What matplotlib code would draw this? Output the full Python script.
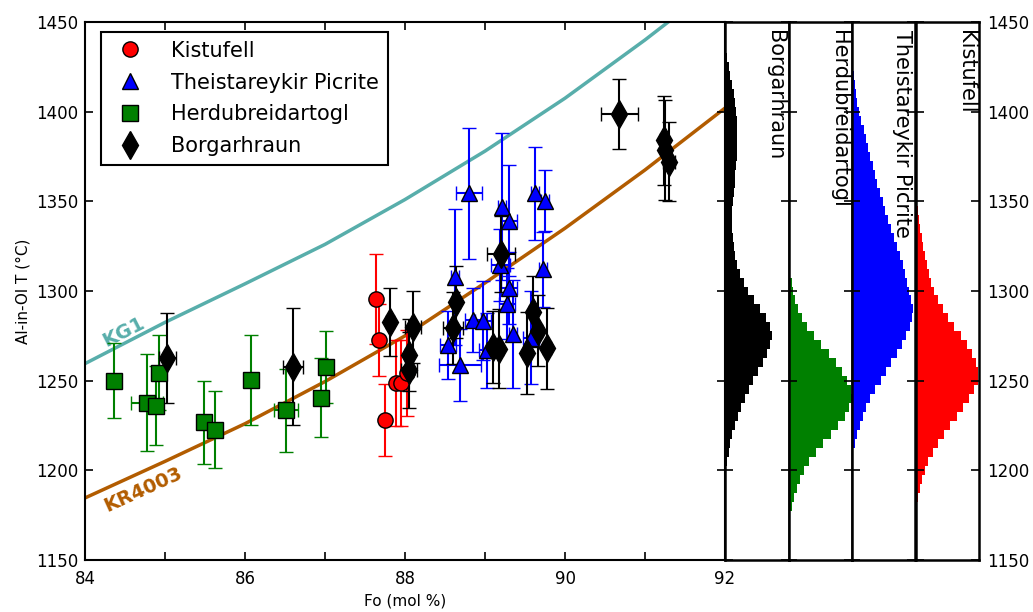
import numpy as np
import matplotlib
matplotlib.use('Agg')
import matplotlib.pyplot as plt

# --- point data: Fo (mol %), T (C), errors ---
kist_fo = [87.64, 87.67, 87.75, 87.89, 87.95, 88.02]
kist_t = [1295.5, 1272.8, 1227.9, 1248.5, 1248.9, 1254.1]
kist_fo_err = [0.0, 0.0, 0.0, 0.0, 0.0, 0.0]
kist_t_err = [25, 20, 20, 24, 24, 24]

theis_fo = [88.80, 89.21, 89.30, 89.63, 89.75, 89.19, 89.73, 88.63, 89.30,
            89.28, 88.85, 88.97, 88.54, 88.69, 89.02, 89.35, 89.57]
theis_t = [1354.5, 1347.0, 1339.2, 1354.5, 1350.4, 1314.3, 1312.1, 1308.0, 1301.5,
           1293.0, 1283.8, 1283.4, 1269.9, 1258.7, 1267.0, 1276.0, 1274.0]
theis_fo_err = [0.16, 0.05, 0.10, 0.05, 0.05, 0.12, 0.05, 0.05, 0.10,
                0.10, 0.10, 0.10, 0.10, 0.26, 0.10, 0.05, 0.10]
theis_t_err = [36.5, 41, 31, 26, 17, 20, 21, 38, 20,
               20, 18, 22, 19, 20, 21, 30, 26]

herd_fo = [84.36, 84.77, 84.89, 84.93, 85.49, 85.62, 86.08, 86.51, 87.01, 86.95]
herd_t = [1250.0, 1237.7, 1235.9, 1254.4, 1226.8, 1222.7, 1250.5, 1233.5, 1257.6, 1240.5]
herd_fo_err = [0.05, 0.2, 0.05, 0.05, 0.05, 0.05, 0.05, 0.15, 0.05, 0.05]
herd_t_err = [21, 27, 22, 21, 23, 21.5, 25, 23, 20, 22]

borg_fo = [85.03, 86.60, 87.81, 88.10, 88.05, 88.05, 88.64, 88.60, 89.10, 89.17,
           89.20, 89.60, 89.66, 89.52, 89.77, 90.68, 91.25, 91.30, 91.24]
borg_t = [1262.5, 1257.8, 1282.9, 1280.1, 1264.3, 1255.9, 1294.0, 1279.2, 1268.6, 1267.7,
          1320.6, 1288.5, 1277.9, 1265.3, 1268.0, 1398.7, 1378.6, 1372.0, 1384.0]
borg_fo_err = [0.11, 0.125, 0.05, 0.10, 0.05, 0.10, 0.05, 0.12, 0.05, 0.05,
               0.18, 0.05, 0.05, 0.05, 0.05, 0.23, 0.05, 0.08, 0.05]
borg_t_err = [25, 32.5, 19, 20, 20, 21, 20, 20, 20, 22,
              21, 20, 20, 23, 22.5, 19.5, 28, 22, 25]

# --- model curves ---
kg1_fo = [84.0, 85.0, 86.0, 87.0, 88.0, 89.0, 90.0, 91.0, 91.29]
kg1_t = [1259.5, 1282.5, 1304.0, 1326.0, 1351.0, 1378.0, 1407.5, 1440.0, 1450.0]
kr_fo = [84.0, 85.0, 86.0, 87.0, 88.0, 89.0, 90.0, 91.0, 92.0]
kr_t = [1184.6, 1205.0, 1226.0, 1249.5, 1275.0, 1304.5, 1335.0, 1367.5, 1402.0]

# --- histograms (bin centres, 5 C bins, relative frequency) ---
borg_bins = list(range(1200, 1445, 5))
borg_freq = [1, 2, 3.5, 5, 7, 10, 13, 16, 20, 24, 28, 33, 38, 42, 45, 46.5, 45, 41, 35, 29,
             23, 19, 15, 12, 10, 8.5, 7.5, 7, 7, 7, 8, 8.5, 9.5, 10, 11, 11.5, 12, 12.3, 12.3,
             12, 11, 10, 8.5, 7, 5, 3.5, 2, 1, 0.5]
herd_bins = list(range(1170, 1320, 5))
herd_freq = [0.5, 1.5, 3, 5.5, 8, 11, 15, 20, 27, 34, 42, 49, 56, 60, 63, 62, 58, 53, 47, 40,
             32, 25, 18, 13, 9, 6, 4.5, 3, 1.5, 0.5]
theis_bins = list(range(1210, 1430, 5))
theis_freq = [1, 3, 5, 7.5, 10.5, 14, 18, 23, 29, 34, 39, 45, 50, 54, 58, 60.5, 61, 59.5, 57.5,
              55.5, 53, 51, 48, 45, 42, 39, 36, 33, 30.5, 28, 25, 23, 21, 18, 16, 14, 11.5, 9,
              6.5, 4.5, 3.5, 2.5, 1.5, 0.5]
kist_bins = list(range(1180, 1355, 5))
kist_freq = [1, 2.5, 4, 6.5, 9, 12.5, 17, 22, 28, 34, 41, 47, 53, 58, 62, 62.5, 60, 56, 51, 45,
             38, 32, 27, 22, 18.5, 15.5, 13, 11, 9.5, 7.5, 6, 4.5, 3, 2, 1]

teal = '#58aeab'
brown = '#b25c00'
yticks = np.arange(1150, 1451, 50)

fig = plt.figure(figsize=(10.33, 6.12), dpi=100)
W, H = 1033.0, 612.0
ax = fig.add_axes([85 / W, 52 / H, 640 / W, 538 / H])

ax.plot(kg1_fo, kg1_t, color=teal, lw=2.5, zorder=1)
ax.plot(kr_fo, kr_t, color=brown, lw=2.5, zorder=1)
ax.text(84.48, 1277, 'KG1', color=teal, fontsize=14, fontweight='bold', rotation=27,
        ha='center', va='center')
ax.text(84.73, 1189, 'KR4003', color=brown, fontsize=14, fontweight='bold', rotation=24.5,
        ha='center', va='center')

eb_kw = dict(ls='none', capsize=5, elinewidth=1.5, capthick=1.5, mec='k', mew=1, zorder=3)
h_herd = ax.errorbar(herd_fo, herd_t, xerr=herd_fo_err, yerr=herd_t_err, fmt='s', ms=11,
                     color='g', mfc='g', **eb_kw)
h_kist = ax.errorbar(kist_fo, kist_t, xerr=kist_fo_err, yerr=kist_t_err, fmt='o', ms=11,
                     color='r', mfc='r', **eb_kw)
h_theis = ax.errorbar(theis_fo, theis_t, xerr=theis_fo_err, yerr=theis_t_err, fmt='^', ms=12,
                      color='b', mfc='b', **eb_kw)
h_borg = ax.errorbar(borg_fo, borg_t, xerr=borg_fo_err, yerr=borg_t_err, fmt='d', ms=14,
                     color='k', mfc='k', **eb_kw)

leg = ax.legend([h_kist[0], h_theis[0], h_herd[0], h_borg[0]],
                ['Kistufell', 'Theistareykir Picrite', 'Herdubreidartogl', 'Borgarhraun'],
                loc='upper left', bbox_to_anchor=(0.008, 1.0), numpoints=1, fontsize=15,
                fancybox=False, framealpha=1, edgecolor='k', borderaxespad=0.5,
                handletextpad=1.0, labelspacing=0.57)
leg.get_frame().set_linewidth(1.5)

ax.set_xlim(84, 92)
ax.set_ylim(1150, 1450)
ax.set_xticks(np.arange(84, 93, 1))
ax.set_xticklabels(['84', '', '86', '', '88', '', '90', '', '92'])
ax.set_yticks(yticks)
ax.tick_params(direction='in', top=True, right=True, length=6, width=1.2, labelsize=12)
ax.tick_params(axis='x', pad=7)
ax.tick_params(axis='y', pad=5)
ax.set_xlabel('Fo (mol %)', fontsize=11)
ax.set_ylabel('Al-in-Ol T (°C)', fontsize=11)
for s in ax.spines.values():
    s.set_linewidth(1.5)

hists = [(borg_bins, borg_freq, 'k', 'Borgarhraun'),
         (herd_bins, herd_freq, 'g', 'Herdubreidartogl'),
         (theis_bins, theis_freq, 'b', 'Theistareykir Picrite'),
         (kist_bins, kist_freq, 'r', 'Kistufell')]
pw = 63.5
for i, (bins, freq, c, name) in enumerate(hists):
    hax = fig.add_axes([(725 + i * pw) / W, 52 / H, pw / W, 538 / H])
    edges = np.append(np.array(bins) - 2.5, bins[-1] + 2.5)
    hax.stairs(freq, edges, orientation='horizontal', fill=True, color=c, lw=0)
    hax.set_xlim(0, pw)
    hax.set_ylim(1150, 1450)
    hax.set_xticks([])
    hax.set_yticks(yticks)
    hax.tick_params(axis='y', direction='in', left=True, right=True, length=6, width=1.2,
                    labelleft=False, labelright=(i == 3), labelsize=12, pad=6)
    for s in hax.spines.values():
        s.set_linewidth(1.8)
    hax.text(0.79, 0.985, name, transform=hax.transAxes, rotation=-90, fontsize=15,
             ha='center', va='top')

fig.savefig('out.png', dpi=100)
